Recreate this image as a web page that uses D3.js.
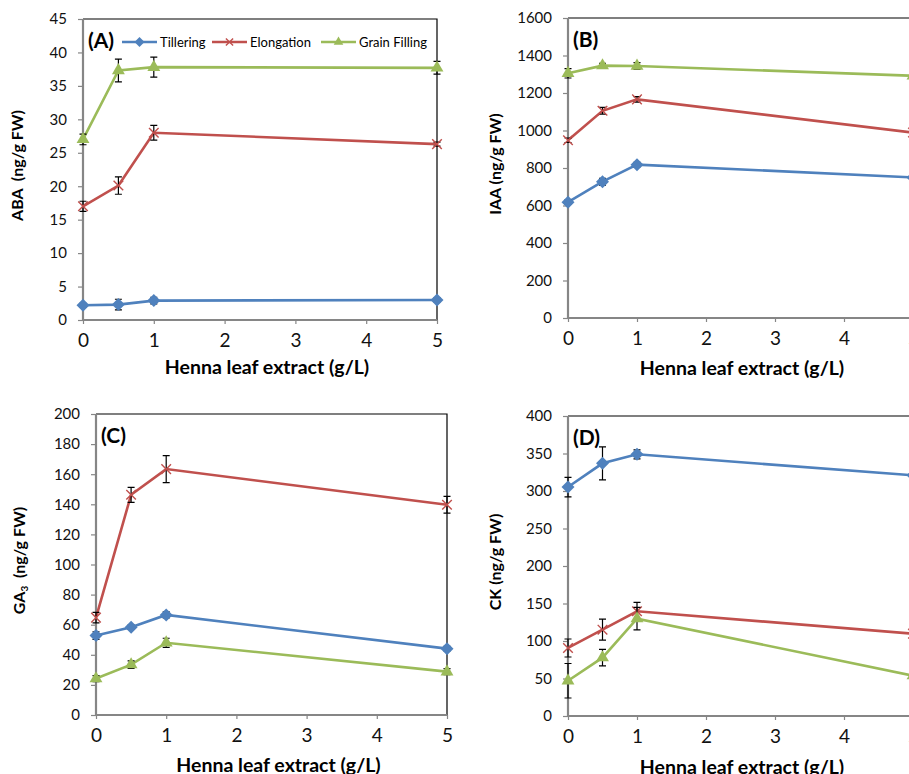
<!DOCTYPE html>
<html>
<head>
<meta charset="utf-8">
<script src="https://cdn.jsdelivr.net/npm/d3@7"></script>
<style>
  body { margin: 0; background: #fff; overflow: hidden; }
  svg { display: block; font-family: Lato, "Open Sans", sans-serif; }
</style>
</head>
<body>
<div id="chart"></div>
<script>
const doses = [0, 0.5, 1, 5];
const seriesNames = ['Tillering', 'Elongation', 'Grain Filling'];
const xTicks = [0, 1, 2, 3, 4, 5];

// (A) ABA
const abaMeans = [[2.2, 2.3, 2.9, 3.0], [17.0, 20.1, 28.0, 26.3], [27.0, 37.3, 37.8, 37.7]];
const abaErrors = [[0.3, 0.8, 0.5, 0.3], [0.75, 1.3, 1.1, 0.3], [0.8, 1.7, 1.5, 0.95]];
const abaTicks = [0, 5, 10, 15, 20, 25, 30, 35, 40, 45];

// (B) IAA
const iaaMeans = [[618, 727, 818, 750], [948, 1105, 1166, 989], [1305, 1346, 1344, 1292]];
const iaaErrors = [[12, 18, 12, 8], [12, 18, 15, 8], [25, 12, 18, 8]];
const iaaTicks = [0, 200, 400, 600, 800, 1000, 1200, 1400, 1600];

// (C) GA3
const gaMeans = [[52.8, 58.3, 66.5, 44.1], [64.7, 146.3, 163.4, 139.7], [24.2, 33.5, 48.0, 28.8]];
const gaErrors = [[2.5, 1.5, 2, 1.5], [3.5, 5, 9, 5.5], [2, 2.5, 3, 2]];
const gaTicks = [0, 20, 40, 60, 80, 100, 120, 140, 160, 180, 200];

// (D) CK
const ckMeans = [[305.3, 336.9, 348.9, 320.9], [90.7, 115.1, 139.6, 109.8], [47, 77.8, 129.8, 53.8]];
const ckErrors = [[13, 22, 6, 13], [12, 14, 12, 4], [23, 11, 15, 5]];
const ckTicks = [0, 50, 100, 150, 200, 250, 300, 350, 400];

const colors = ['#4f81bd', '#c0504d', '#9bbb59'];

const svg = d3.select('#chart').append('svg')
  .attr('width', 909)
  .attr('height', 774);

const panels = [
  { tag: '(A)', means: abaMeans, errors: abaErrors, ticks: abaTicks, ytitle: 'ABA\u00a0\u00a0(ng/g FW)',
    box: { left: 83, right: 437, top: 19, bottom: 320 }, ytx: 19, xty: 374, legend: true },
  { tag: '(B)', means: iaaMeans, errors: iaaErrors, ticks: iaaTicks, ytitle: 'IAA (ng/g FW)',
    box: { left: 568, right: 913, top: 18, bottom: 318 }, ytx: 497, xty: 375 },
  { tag: '(C)', means: gaMeans, errors: gaErrors, ticks: gaTicks, ytitle: 'GA3',
    box: { left: 96, right: 447, top: 414, bottom: 715 }, ytx: 21, xty: 772 },
  { tag: '(D)', means: ckMeans, errors: ckErrors, ticks: ckTicks, ytitle: 'CK (ng/g FW)',
    box: { left: 568, right: 913, top: 416, bottom: 716 }, ytx: 497, xty: 774 }
];

function drawMarker(g, i, cx, cy, size) {
  const s = size / 2;
  if (i === 0) {
    g.append('path')
      .attr('d', `M${cx},${cy - s}L${cx + s},${cy}L${cx},${cy + s}L${cx - s},${cy}Z`)
      .attr('fill', colors[i]);
  } else if (i === 1) {
    const k = size * 0.4;
    g.append('path')
      .attr('d', `M${cx - k},${cy - k}L${cx + k},${cy + k}M${cx - k},${cy + k}L${cx + k},${cy - k}`)
      .attr('stroke', colors[i]).attr('stroke-width', 1.4).attr('fill', 'none');
  } else {
    g.append('path')
      .attr('transform', `translate(${cx},${cy})`)
      .attr('d', d3.symbol(d3.symbolTriangle, size * size * 0.5)())
      .attr('fill', colors[i]);
  }
}

panels.forEach(p => {
  const b = p.box;
  const x = d3.scaleLinear().domain([0, 5]).range([b.left, b.right]);
  const y = d3.scaleLinear().domain([0, d3.max(p.ticks)]).range([b.bottom, b.top]);
  const g = svg.append('g');

  // plot border (top/right black)
  g.append('path')
    .attr('d', `M${b.left},${b.top}H${b.right}V${b.bottom}`)
    .attr('fill', 'none').attr('stroke', '#000').attr('stroke-width', 1.2);

  const yAxis = g.append('g')
    .attr('transform', `translate(${b.left},0)`)
    .call(d3.axisLeft(y).tickValues(p.ticks).tickFormat(d => d).tickSize(5).tickPadding(11));
  const xAxis = g.append('g')
    .attr('transform', `translate(0,${b.bottom})`)
    .call(d3.axisBottom(x).tickValues(xTicks).tickFormat(d => d).tickSize(4).tickPadding(10));

  [yAxis, xAxis].forEach(a => {
    a.select('.domain').attr('stroke', '#868686').attr('stroke-width', 2.2);
    a.selectAll('.tick line').attr('stroke', '#868686').attr('stroke-width', 1.2);
    a.selectAll('text').attr('fill', '#111').style('font-family', 'Lato, sans-serif');
  });
  yAxis.selectAll('text').style('font-size', '15px');
  xAxis.selectAll('text').style('font-size', '19px');
  xAxis.select('.domain').attr('d', `M${b.left},0H${b.right}`);
  yAxis.select('.domain').attr('d', `M0,${b.bottom}V${b.top}`);

  const line = d3.line().x((d, j) => x(doses[j])).y(d => y(d));

  p.means.forEach((vals, i) => {
    g.append('path')
      .datum(vals)
      .attr('d', line)
      .attr('fill', 'none')
      .attr('stroke', colors[i])
      .attr('stroke-width', 2.6);
  });

  p.means.forEach((vals, i) => {
    vals.forEach((v, j) => {
      const e = p.errors[i][j];
      const cx = x(doses[j]);
      g.append('path')
        .attr('d', `M${cx},${y(v - e)}V${y(v + e)}M${cx - 3.5},${y(v - e)}H${cx + 3.5}M${cx - 3.5},${y(v + e)}H${cx + 3.5}`)
        .attr('stroke', '#000').attr('stroke-width', 1.2).attr('fill', 'none');
      drawMarker(g, i, cx, y(v), i === 0 ? 13 : 12);
    });
  });

  g.append('text')
    .attr('x', b.left + 5).attr('y', b.top + 29)
    .style('font-size', '21px').style('font-weight', 'bold')
    .text(p.tag);

  // y title
  const yt = g.append('text')
    .attr('transform', `translate(${p.ytx},${(b.top + b.bottom) / 2 - 4}) rotate(-90)`)
    .attr('text-anchor', 'middle')
    .attr('dominant-baseline', 'middle')
    .style('font-size', '16px').style('font-weight', 'bold');
  if (p.ytitle === 'GA3') {
    yt.append('tspan').text('GA');
    yt.append('tspan').attr('dy', 4).style('font-size', '10px').text('3');
    yt.append('tspan').attr('dy', -4).text('\u00a0\u00a0(ng/g FW)');
  } else {
    yt.text(p.ytitle);
  }

  // x title
  g.append('text')
    .attr('x', b.right > 909 ? 742 : (b.left + b.right) / 2 + 7)
    .attr('y', p.xty)
    .attr('text-anchor', 'middle')
    .style('font-size', '19.5px').style('font-weight', 'bold')
    .text('Henna leaf extract (g/L)');

  if (p.legend) {
    const starts = [122, 212, 321];
    seriesNames.forEach((name, i) => {
      const lx = starts[i];
      const ly = 42;
      g.append('line')
        .attr('x1', lx).attr('x2', lx + 35).attr('y1', ly).attr('y2', ly)
        .attr('stroke', colors[i]).attr('stroke-width', 2.6);
      drawMarker(g, i, lx + 17.5, ly, i === 0 ? 10 : 9);
      g.append('text')
        .attr('x', lx + 38).attr('y', ly + 4.5)
        .style('font-size', '13px')
        .text(name);
    });
  }
});
</script>
</body>
</html>
